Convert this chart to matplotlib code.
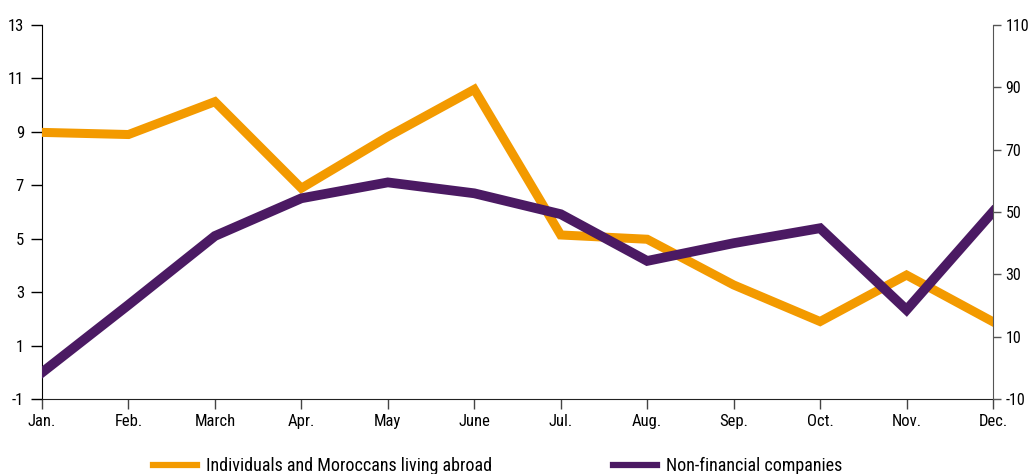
import matplotlib
matplotlib.use("Agg")
import matplotlib.pyplot as plt
from matplotlib.lines import Line2D

plt.rcParams['font.family'] = ['Roboto Condensed', 'DejaVu Sans']
plt.rcParams['axes.unicode_minus'] = False

months = ["Jan.", "Feb.", "March", "Apr.", "May", "June", "Jul.", "Aug.", "Sep.", "Oct.", "Nov.", "Dec."]
individuals = [8.98, 8.9, 10.13, 6.89, 8.82, 10.59, 5.14, 4.98, 3.27, 1.9, 3.64, 1.89]
companies = [-1.5, 20.2, 42.3, 54.4, 59.5, 56.0, 49.3, 34.3, 40.0, 44.8, 18.6, 50.1]
left_ticks = [-1, 1, 3, 5, 7, 9, 11, 13]
right_ticks = [-10, 10, 30, 50, 70, 90, 110]
series_labels = ["Individuals and Moroccans living abroad", "Non-financial companies"]

orange = "#F39A00"
purple = "#4B1A63"

W, H = 1029, 474
fig = plt.figure(figsize=(W / 100, H / 100), dpi=100)
ax = fig.add_axes([42 / W, 75 / H, 951 / W, 374 / H])
ax2 = ax.twinx()

x = list(range(len(months)))
ax.plot(x, individuals, color=orange, lw=6.5, solid_joinstyle='miter', zorder=3)
ax2.plot(x, companies, color=purple, lw=7.0, solid_joinstyle='miter', zorder=3)

ax.set_xlim(0, len(months) - 1)
ax.set_ylim(-1, 13)
ax2.set_ylim(-10, 110)
ax.set_xticks(x)
ax.set_xticklabels(months)
ax.set_yticks(left_ticks)
ax2.set_yticks(right_ticks)

for a in (ax, ax2):
    a.spines['top'].set_visible(False)
ax.tick_params(axis='x', labelsize=12, length=7, width=1, color='#444444', pad=4)
ax.tick_params(axis='y', labelsize=12, length=8, width=1, color='black', pad=5)
ax2.tick_params(axis='y', labelsize=11.5, length=6, width=1, color='#555555', pad=3)
ax.spines['right'].set_visible(False)
ax.spines['left'].set_color('black')
ax.spines['bottom'].set_color('#222222')
ax2.spines['left'].set_visible(False)
ax2.spines['bottom'].set_visible(False)
ax2.spines['right'].set_color('#555555')

# Legend entries, one per series, placed along the bottom edge
for color, label, x0 in [(orange, series_labels[0], 153), (purple, series_labels[1], 613)]:
    fig.legend([Line2D([], [], color=color, lw=4.5)], [label], loc='center left',
               bbox_to_anchor=(x0 / W, 1 - 466 / H), frameon=False, fontsize=13,
               handlelength=2.45, handletextpad=0.5, borderpad=0, borderaxespad=0)

fig.savefig("out.png", dpi=100)
